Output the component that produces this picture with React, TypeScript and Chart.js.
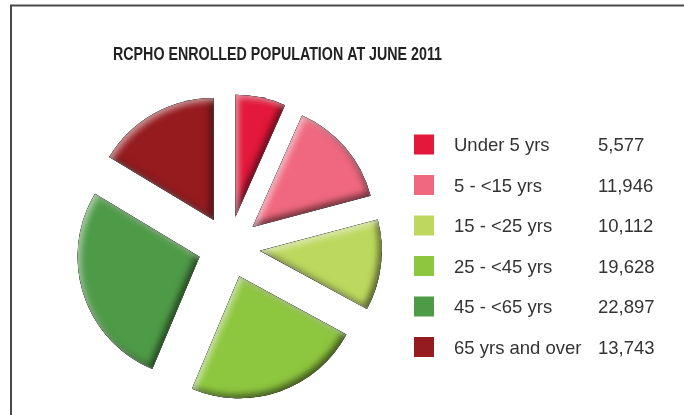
import React, { useEffect, useRef } from "react";
import { Chart, registerables } from "chart.js";

Chart.register(...registerables);

const TITLE = "RCPHO ENROLLED POPULATION AT JUNE 2011";
const categories = [
  "Under 5 yrs",
  "5 - <15 yrs",
  "15 - <25 yrs",
  "25 - <45 yrs",
  "45 - <65 yrs",
  "65 yrs and over",
];
const values = [5577, 11946, 10112, 19628, 22897, 13743];
const colors = ["#E3183A", "#F0687F", "#BDD85E", "#8DC63F", "#4E9B47", "#951B1F"];

const EXPLODE = 31;

const framePlugin = {
  id: "frame",
  beforeDraw(chart: any) {
    const ctx = chart.ctx;
    ctx.save();
    ctx.fillStyle = "#ffffff";
    ctx.fillRect(0, 0, chart.width, chart.height);
    ctx.strokeStyle = "#4a4a4a";
    ctx.lineWidth = 2;
    ctx.beginPath();
    ctx.moveTo(11, 415);
    ctx.lineTo(11, 5.5);
    ctx.lineTo(684, 5.5);
    ctx.stroke();
    ctx.restore();
  },
};

const explodePlugin = {
  id: "explode",
  beforeDatasetsDraw(chart: any) {
    const ctx = chart.ctx;
    const meta = chart.getDatasetMeta(0);
    meta.data.forEach((arc: any) => {
      const { x, y, startAngle, endAngle, outerRadius } = arc.getProps(
        ["x", "y", "startAngle", "endAngle", "outerRadius"],
        true
      );
      const mid = (startAngle + endAngle) / 2;
      ctx.save();
      ctx.translate(Math.cos(mid) * EXPLODE, Math.sin(mid) * EXPLODE);
      arc.draw(ctx);
      const path = new Path2D();
      path.moveTo(x, y);
      path.arc(x, y, outerRadius, startAngle, endAngle);
      path.closePath();
      ctx.clip(path);
      const outer = new Path2D();
      outer.rect(-2000, -2000, 5000, 5000);
      outer.addPath(path);
      ctx.fillStyle = "#000";
      ctx.shadowColor = "rgba(0,0,0,0.6)";
      ctx.shadowBlur = 7;
      ctx.shadowOffsetX = -3;
      ctx.shadowOffsetY = -3;
      ctx.fill(outer, "evenodd");
      ctx.shadowColor = "rgba(255,255,255,0.55)";
      ctx.shadowBlur = 6;
      ctx.shadowOffsetX = 3;
      ctx.shadowOffsetY = 3;
      ctx.fill(outer, "evenodd");
      ctx.restore();
    });
    return false;
  },
};

const textPlugin = {
  id: "texts",
  afterDraw(chart: any) {
    const ctx = chart.ctx;
    ctx.save();
    // title, horizontally condensed
    ctx.font = "bold 18px 'Liberation Sans', Arial, sans-serif";
    ctx.fillStyle = "#222222";
    ctx.textBaseline = "alphabetic";
    ctx.textAlign = "left";
    const w = ctx.measureText(TITLE).width;
    const targetW = 329;
    const sx = targetW / w;
    ctx.save();
    ctx.translate(277.5 - targetW / 2, 60);
    ctx.scale(sx, 1);
    ctx.fillText(TITLE, 0, 0);
    ctx.restore();

    // legend
    ctx.font = "18.5px 'Liberation Sans', Arial, sans-serif";
    ctx.fillStyle = "#333333";
    categories.forEach((c, i) => {
      const cy = 144.5 + i * 40.5;
      ctx.fillStyle = colors[i];
      ctx.fillRect(414, cy - 10, 20, 20);
      ctx.fillStyle = "#333333";
      ctx.fillText(c, 454, cy + 6.7);
      ctx.fillText(values[i].toLocaleString("en-US"), 598, cy + 6.7);
    });
    ctx.restore();
  },
};

export default function App() {
  const ref = useRef<HTMLCanvasElement>(null);
  useEffect(() => {
    if (!ref.current) return;
    const chart = new Chart(ref.current, {
      type: "pie",
      data: {
        labels: categories,
        datasets: [
          {
            data: values,
            backgroundColor: colors,
            borderWidth: 0,
          },
        ],
      },
      options: {
        responsive: false,
        animation: false,
        events: [],
        layout: { padding: { left: 107, right: 333, top: 125, bottom: 46 } },
        plugins: {
          legend: { display: false },
          title: { display: false },
          tooltip: { enabled: false },
        },
      },
      plugins: [framePlugin, explodePlugin, textPlugin],
    });
    return () => chart.destroy();
  }, []);
  return (
    <div style={{ position: "absolute", left: 0, top: 0, width: 684, height: 415 }}>
      <canvas ref={ref} width={684} height={415} />
    </div>
  );
}
